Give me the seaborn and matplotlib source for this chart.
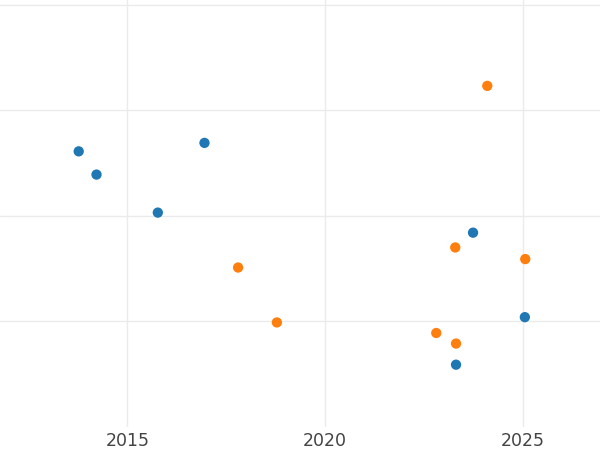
import numpy as np
import pandas as pd
import matplotlib
matplotlib.use("Agg")
import matplotlib.pyplot as plt
import seaborn as sns

# Values (x in fractional years, y in arbitrary units)
blue_year = [2013.77, 2014.22, 2015.77, 2016.95, 2023.74, 2025.05, 2023.31]
blue_value = [26.1, 23.9, 20.3, 26.9, 18.4, 10.4, 5.9]
orange_year = [2024.10, 2017.80, 2018.78, 2023.29, 2025.06, 2022.81, 2023.31]
orange_value = [32.3, 15.1, 9.9, 17.0, 15.9, 8.9, 7.9]
series_names = ["A", "B"]
year_ticks = [2015, 2020, 2025]
value_ticks = [10, 20, 30, 40]

df = pd.concat([
    pd.DataFrame({"year": blue_year, "value": blue_value, "series": series_names[0]}),
    pd.DataFrame({"year": orange_year, "value": orange_value, "series": series_names[1]}),
], ignore_index=True)

sns.set_theme(style="whitegrid")
plt.rcParams['font.family'] = ['DejaVu Sans']

fig = plt.figure(figsize=(6, 4.5), dpi=100)
ax = fig.add_axes([0, 23 / 450, 1, 427 / 450])

sns.scatterplot(data=df, x="year", y="value", hue="series",
                palette=["#1f77b4", "#ff7f0e"], s=55, edgecolor="none",
                legend=False, ax=ax)

ax.set_xlim(2011.78, 2026.95)
ax.set_ylim(0, 40.43)
ax.set_xticks(year_ticks)
ax.set_yticks(value_ticks)
ax.set_yticklabels([])
ax.set_xlabel("")
ax.set_ylabel("")
ax.grid(True, color="#ebebeb", linewidth=1)
ax.tick_params(axis="x", length=0, pad=3.5, labelsize=12.5, labelcolor="#444444")
ax.tick_params(axis="y", length=0)
for spine in ax.spines.values():
    spine.set_visible(False)

fig.savefig("out.png", dpi=100)
